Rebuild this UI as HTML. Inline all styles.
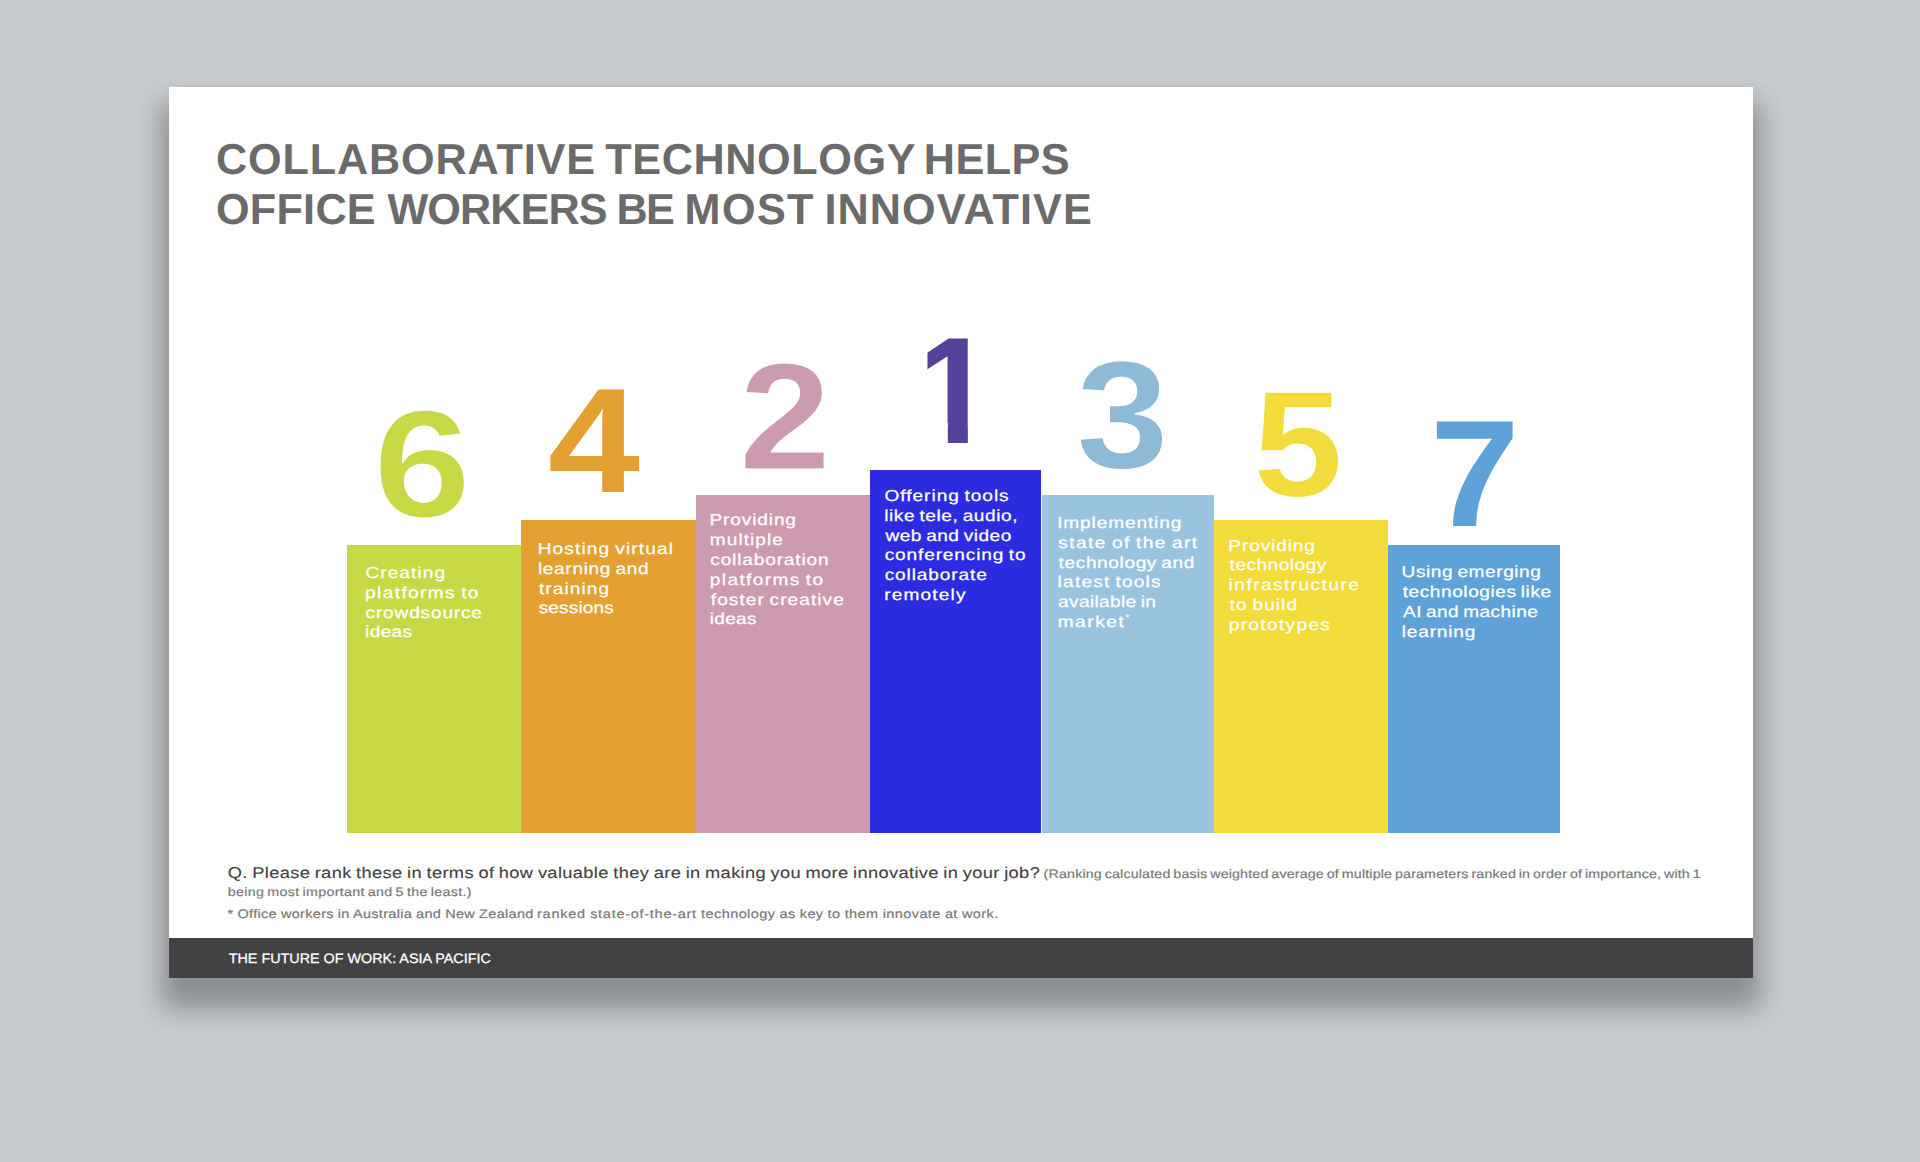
<!DOCTYPE html>
<html lang="en">
<head>
<meta charset="utf-8">
<title>Collaborative technology helps office workers be most innovative</title>
<style>
html,body{margin:0;padding:0;}
body{width:1920px;height:1162px;overflow:hidden;background:#c9cdd0;position:relative;font-family:"Liberation Sans",sans-serif;text-rendering:geometricPrecision;}
.slide{position:absolute;left:169px;top:87px;width:1584px;height:890.5px;background:#fff;
  box-shadow:0 23px 26px 8px rgba(0,0,0,.31);}
.tx{position:absolute;white-space:nowrap;line-height:20px;transform-origin:0 0;}
.bar{position:absolute;}
.ln{position:absolute;display:block;color:#fff;word-spacing:-1.3px;-webkit-text-stroke:.25px #fff;font-size:15.9px;line-height:20px;white-space:nowrap;transform-origin:0 0;transform:scaleX(1.2);}
.ln sup{font-size:8px;line-height:0;position:relative;top:-1px;letter-spacing:0;vertical-align:super;}
.num{position:absolute;font-weight:bold;font-size:148px;line-height:1;white-space:nowrap;transform-origin:0 0;}
.footer{position:absolute;left:169px;top:938px;width:1584px;height:39.5px;background:#424244;}
</style>
</head>
<body>
<div class="slide"></div>

<h1 style="margin:0;font-size:inherit;font-weight:inherit;">
<div class="tx" id="t1a" style="left:215px;top:150.00px;font-size:43.2px;letter-spacing:0.864px;word-spacing:0.0px;color:#6b6b6b;font-weight:bold;transform:translateX(0.93px) scaleX(1.0);">COLLABORATIVE</div> <div class="tx" id="t1b" style="left:605px;top:150.00px;font-size:43.2px;letter-spacing:0.607px;word-spacing:0.0px;color:#6b6b6b;font-weight:bold;transform:translateX(0.31px) scaleX(1.0);">TECHNOLOGY</div> <div class="tx" id="t1c" style="left:923px;top:150.00px;font-size:43.2px;letter-spacing:0.469px;word-spacing:0.0px;color:#6b6b6b;font-weight:bold;transform:translateX(0.81px) scaleX(1.0);">HELPS</div>
<div class="tx" id="t2a" style="left:215px;top:200.00px;font-size:43.2px;letter-spacing:0.280px;word-spacing:0.0px;color:#6b6b6b;font-weight:bold;transform:translateX(0.93px) scaleX(1.0);">OFFICE</div> <div class="tx" id="t2b" style="left:387px;top:200.00px;font-size:43.2px;letter-spacing:-0.920px;word-spacing:0.0px;color:#6b6b6b;font-weight:bold;transform:translateX(0.46px) scaleX(1.0);">WORKERS</div> <div class="tx" id="t2c" style="left:616px;top:200.00px;font-size:43.2px;letter-spacing:-1.823px;word-spacing:0.0px;color:#6b6b6b;font-weight:bold;transform:translateX(0.51px) scaleX(1.0);">BE</div> <div class="tx" id="t2d" style="left:684px;top:200.00px;font-size:43.2px;letter-spacing:1.363px;word-spacing:0.0px;color:#6b6b6b;font-weight:bold;transform:translateX(0.61px) scaleX(1.0);">MOST</div> <div class="tx" id="t2e" style="left:824px;top:200.00px;font-size:43.2px;letter-spacing:1.092px;word-spacing:0.0px;color:#6b6b6b;font-weight:bold;transform:translateX(0.41px) scaleX(1.0);">INNOVATIVE</div>
</h1>

<div class="bar" id="b6" style="left:346.5px;top:545.0px;width:175.1px;height:287.8px;background:#c9d946;z-index:1;">
  <span class="ln" style="left:18.50px;top:19.00px;letter-spacing:0.905px;transform:translateX(0.38px) scaleX(1.2);">Creating</span>
  <span class="ln" style="left:18.50px;top:39.00px;letter-spacing:1.157px;transform:translateX(0.12px) scaleX(1.2);">platforms to</span>
  <span class="ln" style="left:18.50px;top:59.00px;letter-spacing:0.695px;transform:translateX(0.54px) scaleX(1.2);">crowdsource</span>
  <span class="ln" style="left:18.50px;top:78.00px;letter-spacing:0.305px;transform:translateX(0.07px) scaleX(1.2);">ideas</span>
</div>
<div class="bar" id="b4" style="left:520.6px;top:520.2px;width:176.0px;height:312.6px;background:#e5a032;z-index:2;">
  <span class="ln" style="left:16.40px;top:19.80px;letter-spacing:0.957px;transform:translateX(0.68px) scaleX(1.2);">Hosting virtual</span>
  <span class="ln" style="left:16.40px;top:39.80px;letter-spacing:0.546px;transform:translateX(0.96px) scaleX(1.2);">learning and</span>
  <span class="ln" style="left:17.40px;top:59.80px;letter-spacing:0.913px;transform:translateX(0.96px) scaleX(1.2);">training</span>
  <span class="ln" style="left:17.40px;top:78.80px;letter-spacing:0.098px;transform:translateX(0.72px) scaleX(1.2);">sessions</span>
</div>
<div class="bar" id="b2" style="left:695.6px;top:495.0px;width:175.8px;height:337.8px;background:#cc9bb0;z-index:3;">
  <span class="ln" style="left:13.40px;top:16.00px;letter-spacing:0.729px;transform:translateX(0.48px) scaleX(1.2);">Providing</span>
  <span class="ln" style="left:13.40px;top:36.00px;letter-spacing:0.880px;transform:translateX(0.78px) scaleX(1.2);">multiple</span>
  <span class="ln" style="left:14.40px;top:56.00px;letter-spacing:0.710px;transform:translateX(0.24px) scaleX(1.2);">collaboration</span>
  <span class="ln" style="left:13.40px;top:76.00px;letter-spacing:1.157px;transform:translateX(0.82px) scaleX(1.2);">platforms to</span>
  <span class="ln" style="left:14.40px;top:96.00px;letter-spacing:0.881px;transform:translateX(0.78px) scaleX(1.2);">foster creative</span>
  <span class="ln" style="left:13.40px;top:115.00px;letter-spacing:0.222px;transform:translateX(0.77px) scaleX(1.2);">ideas</span>
</div>
<div class="bar" id="b1" style="left:870.4px;top:470.0px;width:171.0px;height:362.8px;background:#2b2be0;z-index:4;">
  <span class="ln" style="left:13.60px;top:17.00px;letter-spacing:0.807px;transform:translateX(0.55px) scaleX(1.2);">Offering tools</span>
  <span class="ln" style="left:13.60px;top:37.00px;letter-spacing:0.484px;transform:translateX(0.16px) scaleX(1.2);">like tele, audio,</span>
  <span class="ln" style="left:14.60px;top:57.00px;letter-spacing:0.411px;transform:translateX(0.48px) scaleX(1.2);">web and video</span>
  <span class="ln" style="left:13.60px;top:76.00px;letter-spacing:0.724px;transform:translateX(0.64px) scaleX(1.2);">conferencing to</span>
  <span class="ln" style="left:13.60px;top:96.00px;letter-spacing:0.747px;transform:translateX(0.64px) scaleX(1.2);">collaborate</span>
  <span class="ln" style="left:13.60px;top:116.00px;letter-spacing:0.974px;transform:translateX(0.18px) scaleX(1.2);">remotely</span>
</div>
<div class="bar" id="b3" style="left:1042.1px;top:495.0px;width:172.3px;height:337.8px;background:#9ac4dd;z-index:3;">
  <span class="ln" style="left:14.90px;top:19.00px;letter-spacing:0.737px;transform:translateX(0.14px) scaleX(1.2);">Implementing</span>
  <span class="ln" style="left:15.90px;top:39.00px;letter-spacing:1.197px;transform:translateX(0.37px) scaleX(1.2);">state of the art</span>
  <span class="ln" style="left:15.90px;top:59.00px;letter-spacing:0.514px;transform:translateX(0.61px) scaleX(1.2);">technology and</span>
  <span class="ln" style="left:14.90px;top:78.00px;letter-spacing:1.013px;transform:translateX(0.61px) scaleX(1.2);">latest tools</span>
  <span class="ln" style="left:15.90px;top:98.00px;letter-spacing:0.295px;transform:translateX(0.09px) scaleX(1.2);">available in</span>
  <span class="ln" style="left:14.90px;top:118.00px;letter-spacing:1.319px;transform:translateX(0.63px) scaleX(1.2);">market<sup>*</sup></span>
</div>
<div class="bar" id="b5" style="left:1213.4px;top:520.0px;width:174.8px;height:312.8px;background:#f2dc3c;z-index:2;">
  <span class="ln" style="left:14.60px;top:17.00px;letter-spacing:0.729px;transform:translateX(0.33px) scaleX(1.2);">Providing</span>
  <span class="ln" style="left:15.60px;top:36.00px;letter-spacing:0.405px;transform:translateX(0.61px) scaleX(1.2);">technology</span>
  <span class="ln" style="left:14.60px;top:56.00px;letter-spacing:1.214px;transform:translateX(0.62px) scaleX(1.2);">infrastructure</span>
  <span class="ln" style="left:15.60px;top:76.00px;letter-spacing:0.890px;transform:translateX(0.61px) scaleX(1.2);">to build</span>
  <span class="ln" style="left:14.60px;top:96.00px;letter-spacing:1.127px;transform:translateX(0.67px) scaleX(1.2);">prototypes</span>
</div>
<div class="bar" id="b7" style="left:1387.2px;top:544.7px;width:172.4px;height:288.1px;background:#5fa2da;z-index:1;">
  <span class="ln" style="left:13.80px;top:18.30px;letter-spacing:0.468px;transform:translateX(0.58px) scaleX(1.2);">Using emerging</span>
  <span class="ln" style="left:14.80px;top:38.30px;letter-spacing:0.463px;transform:translateX(0.76px) scaleX(1.2);">technologies like</span>
  <span class="ln" style="left:15.80px;top:58.30px;letter-spacing:0.352px;transform:translateX(0.01px) scaleX(1.2);">AI and machine</span>
  <span class="ln" style="left:13.80px;top:78.30px;letter-spacing:0.674px;transform:translateX(0.76px) scaleX(1.2);">learning</span>
</div>

<div class="num" id="n6" style="left:373.0px;top:387.4px;font-size:150.5px;-webkit-text-stroke:1.8px #fff;color:#c9d946;transform:scale(1.175,1.02);">6</div>
<div class="num" id="n4" style="left:548.4px;top:366.6px;color:#e5a032;transform:scale(1.117,1.008);">4</div>
<div class="num" id="n2" style="left:739.3px;top:341.4px;font-size:149.5px;-webkit-text-stroke:1.2px #fff;color:#cc9bb0;transform:scale(1.105,1.017);">2</div>
<div class="num" id="n1" style="left:913px;top:315.6px;color:#55409a;transform:scale(1,1.026);clip-path:polygon(14.5px 0,54.85px 0,54.85px 148px,34.8px 148px,34.8px 104px,14.5px 104px);">1</div>
<div class="num" id="n3" style="left:1076.3px;top:338.4px;font-size:149.5px;-webkit-text-stroke:1.2px #fff;color:#8dbad7;transform:scale(1.116,1.029);">3</div>
<div class="num" id="n5" style="left:1252.6px;top:367.8px;font-size:149px;-webkit-text-stroke:0.9px #fff;color:#f2dc3c;transform:scale(1.086,1.012);">5</div>
<div class="num" id="n7" style="left:1429.5px;top:399.2px;color:#5fa2da;transform:scale(1.089,1.025);">7</div>

<div class="tx" id="q1" style="left:227px;top:864.00px;font-size:15.6px;letter-spacing:0.310px;word-spacing:-0.8px;color:#424242;font-weight:normal;-webkit-text-stroke:0.12px #424242;transform:translateX(0.74px) scaleX(1.17);">Q. Please rank these in terms of how valuable they are in making you more innovative in your job?</div>
<div class="tx" id="q1s" style="left:1043px;top:864.00px;font-size:12.2px;letter-spacing:0.131px;word-spacing:-1.1px;color:#777777;font-weight:normal;-webkit-text-stroke:0.18px #777777;transform:translateX(0.61px) scaleX(1.17);">(Ranking calculated basis weighted average of multiple parameters ranked in order of importance, with 1</div>
<div class="tx" id="q2" style="left:227px;top:882.00px;font-size:12.2px;letter-spacing:0.281px;word-spacing:-1.1px;color:#777777;font-weight:normal;-webkit-text-stroke:0.18px #777777;transform:translateX(0.68px) scaleX(1.17);">being most important and 5 the least.)</div>
<div class="note"><div class="tx" id="q3a" style="left:227px;top:904.00px;font-size:12.4px;letter-spacing:0.264px;word-spacing:-0.3px;color:#777777;font-weight:normal;-webkit-text-stroke:0.18px #777777;transform:translateX(0.57px) scaleX(1.17);">* Office workers in Australia and New Zealand</div> <div class="tx" id="q3b" style="left:537px;top:904.00px;font-size:12.4px;letter-spacing:0.621px;word-spacing:-0.3px;color:#777777;font-weight:normal;-webkit-text-stroke:0.18px #777777;transform:translateX(0.04px) scaleX(1.17);">ranked state-of-the-art</div> <div class="tx" id="q3c" style="left:701px;top:904.00px;font-size:12.4px;letter-spacing:0.357px;word-spacing:-0.3px;color:#777777;font-weight:normal;-webkit-text-stroke:0.18px #777777;transform:translateX(0.08px) scaleX(1.17);">technology as key to them innovate at work.</div></div>

<div class="footer"></div>
<div class="tx" id="ft" style="left:228px;top:949.00px;font-size:13.7px;letter-spacing:-0.009px;word-spacing:0.0px;color:#ffffff;font-weight:normal;-webkit-text-stroke:0.25px #ffffff;transform:translateX(0.68px) scaleX(1.05);">THE FUTURE OF WORK: ASIA PACIFIC</div>
</body>
</html>
